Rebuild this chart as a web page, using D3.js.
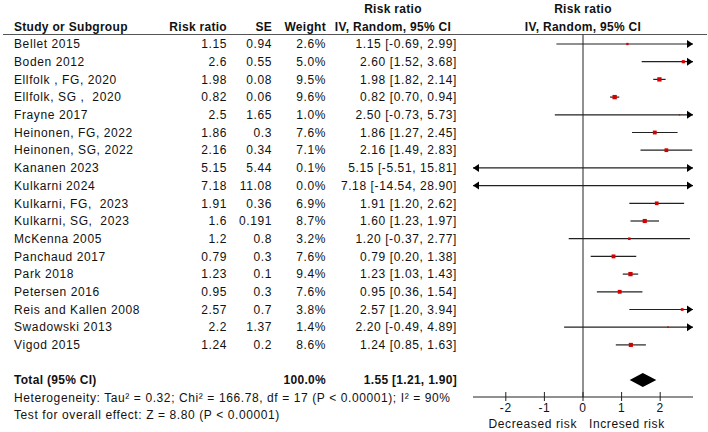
<!DOCTYPE html>
<html>
<head>
<meta charset="utf-8">
<script src="https://cdn.jsdelivr.net/npm/d3@7"></script>
<style>
  body { margin: 0; background: #fff; }
  text { font-family: "Liberation Sans", Arial, sans-serif; font-size: 12px; fill: #111; letter-spacing: 0.6px; white-space: pre; }
  text.bold { font-weight: bold; letter-spacing: 0.3px; }
</style>
</head>
<body>
<div id="chart"></div>
<script>
// study rows
const studies = ["Bellet 2015", "Boden 2012", "Ellfolk , FG, 2020", "Ellfolk, SG ,  2020", "Frayne 2017",
  "Heinonen, FG, 2022", "Heinonen, SG, 2022", "Kananen 2023", "Kulkarni 2024", "Kulkarni, FG,  2023",
  "Kulkarni, SG,  2023", "McKenna 2005", "Panchaud 2017", "Park 2018", "Petersen 2016",
  "Reis and Kallen 2008", "Swadowski 2013", "Vigod 2015"];
const riskRatio = [1.15, 2.6, 1.98, 0.82, 2.5, 1.86, 2.16, 5.15, 7.18, 1.91, 1.6, 1.2, 0.79, 1.23, 0.95, 2.57, 2.2, 1.24];
const se = [0.94, 0.55, 0.08, 0.06, 1.65, 0.3, 0.34, 5.44, 11.08, 0.36, 0.191, 0.8, 0.3, 0.1, 0.3, 0.7, 1.37, 0.2];
const weight = [2.6, 5.0, 9.5, 9.6, 1.0, 7.6, 7.1, 0.1, 0.0, 6.9, 8.7, 3.2, 7.6, 9.4, 7.6, 3.8, 1.4, 8.6];
const ciLow = [-0.69, 1.52, 1.82, 0.70, -0.73, 1.27, 1.49, -5.51, -14.54, 1.20, 1.23, -0.37, 0.20, 1.03, 0.36, 1.20, -0.49, 0.85];
const ciHigh = [2.99, 3.68, 2.14, 0.94, 5.73, 2.45, 2.83, 15.81, 28.90, 2.62, 1.97, 2.77, 1.38, 1.43, 1.54, 3.94, 4.89, 1.63];

// pooled result
const total = { est: 1.55, lo: 1.21, hi: 1.90, weight: 100.0 };
const heterogeneityText = "Heterogeneity: Tau\u00b2 = 0.32; Chi\u00b2 = 166.78, df = 17 (P < 0.00001); I\u00b2 = 90%";
const overallText = "Test for overall effect: Z = 8.80 (P < 0.00001)";
const xTicks = [-2, -1, 0, 1, 2];
const axisLabels = ["Decreased risk", "Incresed risk"];

const width = 708, height = 432;
const svg = d3.select("#chart").append("svg")
  .attr("width", width)
  .attr("height", height);

const x = d3.scaleLinear().domain([-2.85, 2.85]).range([473, 693]);
const y = d3.scaleLinear().domain([0, 1]).range([44, 61.7]);
const totalY = 380;
const axisY = 397;

// header
const head = svg.append("g");
head.append("text").attr("x", 14).attr("y", 31).text("Study or Subgroup");
head.append("text").attr("x", 227).attr("y", 31).attr("text-anchor", "end").text("Risk ratio");
head.append("text").attr("x", 272).attr("y", 31).attr("text-anchor", "end").text("SE");
head.append("text").attr("x", 326).attr("y", 31).attr("text-anchor", "end").text("Weight");
[393, 583].forEach(cx => {
  head.append("text").attr("x", cx).attr("y", 13).attr("text-anchor", "middle").text("Risk ratio");
  head.append("text").attr("x", cx).attr("y", 31).attr("text-anchor", "middle").text("IV, Random, 95% CI");
});
head.selectAll("text").classed("bold", true);

svg.append("line")
  .attr("x1", 3).attr("x2", 707)
  .attr("y1", 34.5).attr("y2", 34.5)
  .attr("stroke", "#555");

// table rows
const rows = svg.append("g").selectAll("g")
  .data(studies.map((s, i) => ({ s, i })))
  .join("g")
  .attr("transform", d => `translate(0,${y(d.i)})`);

rows.append("text").attr("x", 14).attr("dy", "0.35em").text(d => d.s);
rows.append("text").attr("x", 227).attr("dy", "0.35em").attr("text-anchor", "end").text(d => String(riskRatio[d.i]));
rows.append("text").attr("x", 272).attr("dy", "0.35em").attr("text-anchor", "end").text(d => String(se[d.i]));
rows.append("text").attr("x", 326).attr("dy", "0.35em").attr("text-anchor", "end").text(d => weight[d.i].toFixed(1) + "%");
rows.append("text").attr("x", 457).attr("dy", "0.35em").attr("text-anchor", "end")
  .text(d => `${riskRatio[d.i].toFixed(2)} [${ciLow[d.i].toFixed(2)}, ${ciHigh[d.i].toFixed(2)}]`);

// zero line
svg.append("line")
  .attr("x1", x(0)).attr("x2", x(0))
  .attr("y1", 34.5).attr("y2", axisY)
  .attr("stroke", "#222");

// CI lines with arrows where they run off the scale
const [dMin, dMax] = x.domain();
rows.append("line")
  .attr("x1", d => x(Math.max(ciLow[d.i], dMin)))
  .attr("x2", d => x(Math.min(ciHigh[d.i], dMax)))
  .attr("stroke", "#222")
  .attr("stroke-width", 1.2);

rows.filter(d => ciHigh[d.i] > dMax).append("path")
  .attr("d", () => `M${x(dMax) - 6},-4L${x(dMax)},0L${x(dMax) - 6},4Z`)
  .attr("fill", "#000");
rows.filter(d => ciLow[d.i] < dMin).append("path")
  .attr("d", () => `M${x(dMin) + 6},-4L${x(dMin)},0L${x(dMin) + 6},4Z`)
  .attr("fill", "#000");

// weight squares
rows.append("rect")
  .attr("x", d => x(riskRatio[d.i]) - 0.7 * Math.sqrt(weight[d.i]))
  .attr("y", d => -0.7 * Math.sqrt(weight[d.i]))
  .attr("width", d => 1.4 * Math.sqrt(weight[d.i]))
  .attr("height", d => 1.4 * Math.sqrt(weight[d.i]))
  .attr("fill", "#d40000");

// total row
const tot = svg.append("g").attr("transform", `translate(0,${totalY})`);
tot.append("text").attr("class", "bold").attr("x", 14).attr("dy", "0.35em").text("Total (95% CI)");
tot.append("text").attr("class", "bold").attr("x", 326).attr("dy", "0.35em").attr("text-anchor", "end")
  .text(total.weight.toFixed(1) + "%");
tot.append("text").attr("class", "bold").attr("x", 457).attr("dy", "0.35em").attr("text-anchor", "end")
  .text(`${total.est.toFixed(2)} [${total.lo.toFixed(2)}, ${total.hi.toFixed(2)}]`);
tot.append("path")
  .attr("d", `M${x(total.lo)},0L${x(total.est)},-7L${x(total.hi)},0L${x(total.est)},7Z`)
  .attr("fill", "#000");

svg.append("text").attr("x", 14).attr("y", 398).attr("dy", "0.35em").text(heterogeneityText);
svg.append("text").attr("x", 14).attr("y", 415).attr("dy", "0.35em").text(overallText);

// axis
const axis = svg.append("g").attr("transform", `translate(0,${axisY})`);
axis.append("line").attr("x1", x.range()[0]).attr("x2", x.range()[1]).attr("stroke", "#222");
axis.selectAll(".tick").data(xTicks).join("line")
  .attr("x1", d => x(d)).attr("x2", d => x(d))
  .attr("y1", -5).attr("y2", 4)
  .attr("stroke", "#222");
axis.selectAll(".lbl").data(xTicks).join("text")
  .attr("x", d => x(d)).attr("y", 11).attr("dy", "0.35em")
  .attr("text-anchor", "middle")
  .text(d => d < 0 ? "-" + Math.abs(d) : d);

svg.append("text").attr("x", x(0) - 6).attr("y", 424).attr("dy", "0.35em").attr("text-anchor", "end").text(axisLabels[0]);
svg.append("text").attr("x", x(0) + 6).attr("y", 424).attr("dy", "0.35em").text(axisLabels[1]);
</script>
</body>
</html>
